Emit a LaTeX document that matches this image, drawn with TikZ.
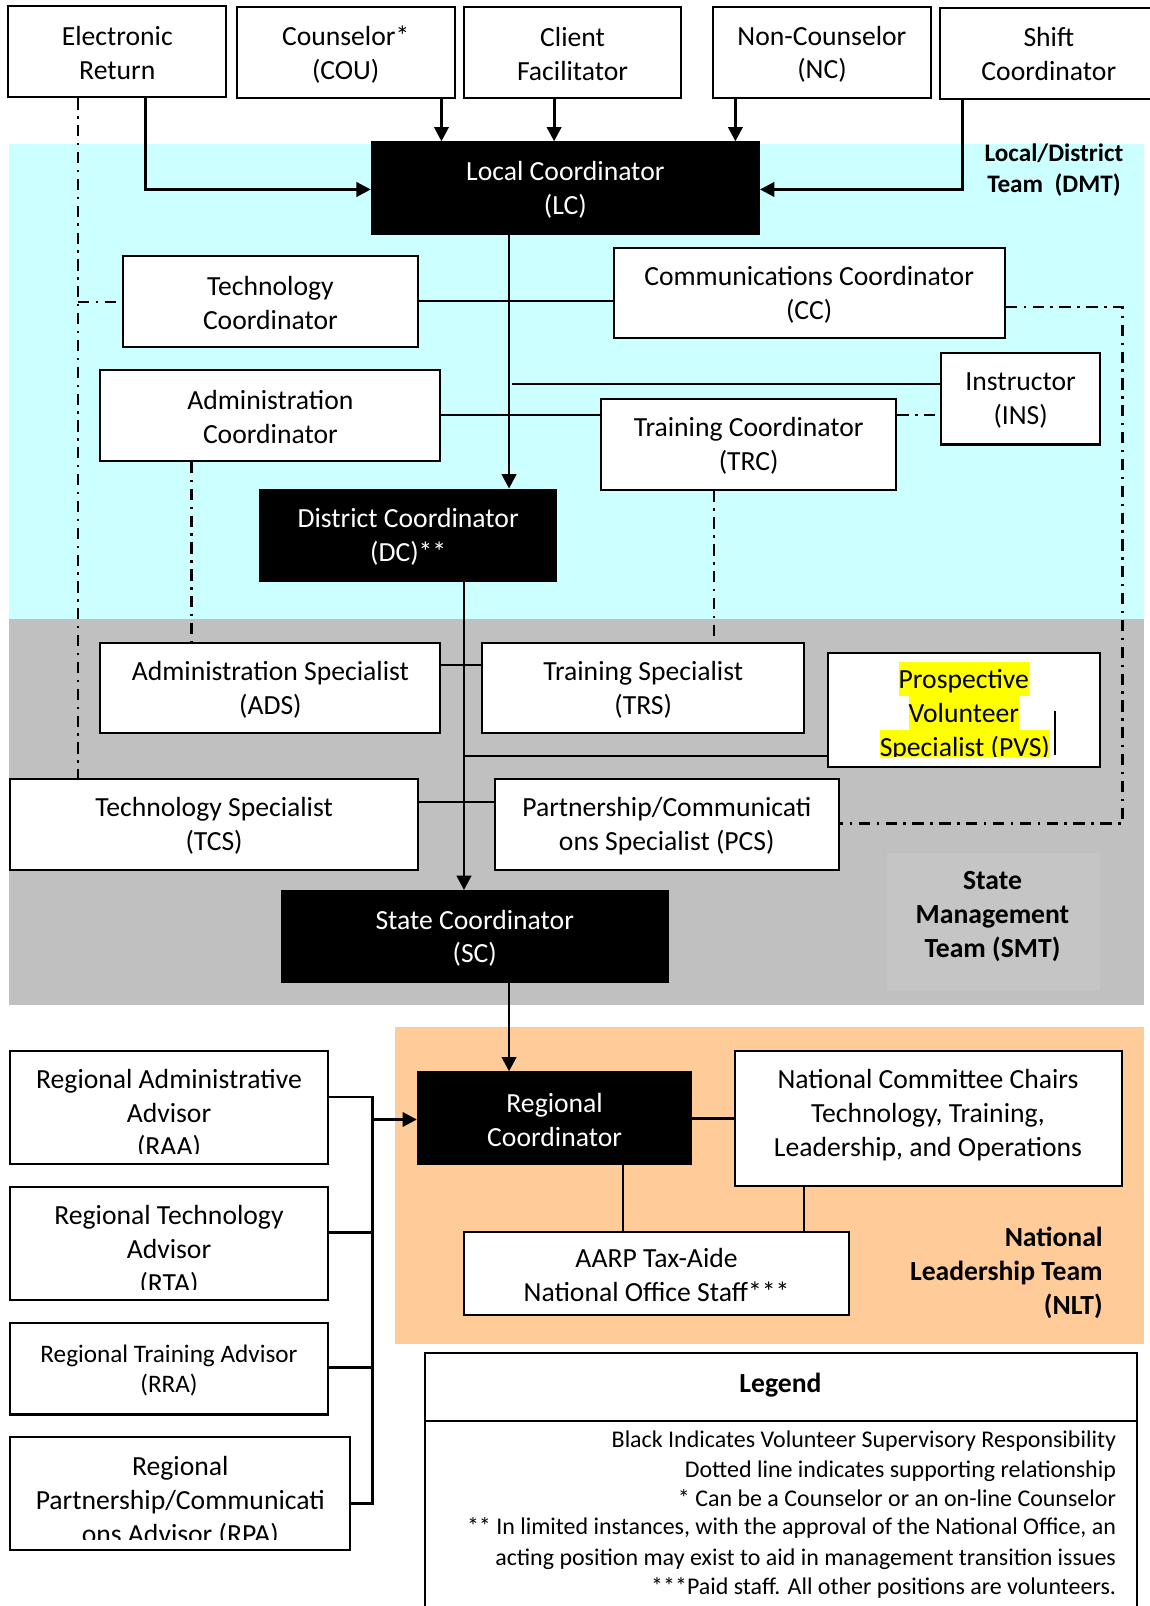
\documentclass[tikz,border=0pt]{standalone}
\usepackage{fontspec}
\setmainfont{Carlito}
\usetikzlibrary{arrows.meta}
\definecolor{cyanbg}{HTML}{CCFFFF}
\definecolor{graybg}{HTML}{C0C0C0}
\definecolor{smtbg}{HTML}{C5C5C5}
\definecolor{orangebg}{HTML}{FFCC99}
\definecolor{hlyellow}{HTML}{FFFF00}
\newcommand\myboxfont{\fontsize{13.5}{16.5}\selectfont}
\newcommand\mysmallfont{\fontsize{12.3}{15}\selectfont}
\newcommand\mylegfont{\fontsize{11.7}{14.3}\selectfont}
\newcommand\mkbox[7][]{%
  \node[box,#1,minimum width={(#5-#3)*0.5pt},minimum height={(#6-#4)*0.5pt}] (#2) at ({(#3+#5)/2},{(#4+#6)/2}) {};
  \node[txt,#1,fill=none,draw=none,yshift=-0.8pt] (#2t) at (#2.center) {#7};}
\tikzset{
  box/.style={draw=black, line width=1pt, fill=white, inner sep=0pt, align=center, font=\myboxfont},
  blk/.style={fill=black, text=white},
  txt/.style={inner sep=0pt, align=center, font=\myboxfont},
  hl/.style={fill=hlyellow, inner xsep=0pt, inner ysep=0pt, text height=13pt, text depth=3.5pt, font=\myboxfont},
  arr/.style={line width=1.4pt, -{Triangle[length=7pt,width=7pt]}},
  ln/.style={line width=1pt},
  ln2/.style={line width=1.3pt},
  dd/.style={line width=1.1pt, dash pattern=on 5.5pt off 3.2pt on 1.2pt off 3.2pt},
  lbl/.style={inner sep=0pt, font=\bfseries\myboxfont}
}
\begin{document}
\begin{tikzpicture}[x=0.5pt,y=-0.5pt]
\useasboundingbox (0,0) rectangle (1122,1568);
% background bands
\fill[cyanbg] (9,141) rectangle (1117,604);
\fill[graybg] (9,604) rectangle (1117,981);
\fill[orangebg] (386,1003) rectangle (1117,1312);
\fill[smtbg] (866,833) rectangle (1074,967);

% top row
\mkbox{er}{8}{6}{221}{95}{Electronic\\Return}
\mkbox{cou}{231}{7}{444}{96}{Counselor*\\(COU)}
\mkbox{cf}{453}{7}{665}{96}{Client\\Facilitator}
\mkbox{nc}{696}{7}{909}{96}{Non-Counselor\\(NC)}
\mkbox{shc}{918}{8}{1126}{97}{}
\node[txt] (shct) at (1024,53) {Shift\\Coordinator};

% local / district
\mkbox[blk]{lc}{363}{139}{741}{228}{Local Coordinator\\(LC)}
\mkbox{tc}{120}{250}{408}{339}{Technology\\Coordinator}
\mkbox{cc}{599}{242}{981}{330}{Communications Coordinator\\(CC)}
\mkbox{ins}{919}{345}{1074}{434}{Instructor\\(INS)}
\mkbox{ac}{98}{361}{430}{450}{Administration\\Coordinator}
\mkbox{trc}{587}{390}{875}{478}{Training Coordinator\\(TRC)}
\mkbox[blk]{dc}{254}{478}{543}{567}{District Coordinator\\(DC)**}

% state
\mkbox{ads}{98}{628}{430}{716}{Administration Specialist\\(ADS)}
\mkbox{trs}{471}{628}{785}{716}{Training Specialist\\(TRS)}
\mkbox{pvs}{808}{638}{1074}{749}{}
\begin{scope}
\clip (809,639) rectangle (1073,739);
\node[hl] (pvs1) at (941,663) {Prospective};
\node[hl] (pvs2) at (941,696) {Volunteer};
\node[hl] (pvs3) at (942,729) {Specialist (PVS)};
\end{scope}
\draw[line width=0.9pt] (1030,694) -- (1030,737);
\mkbox{tcs}{10}{761}{408}{849}{Technology Specialist\\(TCS)}
\mkbox{pcs}{483}{761}{819}{849}{Partnership/Communicati\\ons Specialist (PCS)}
\mkbox[blk]{sc}{275}{870}{652}{959}{State Coordinator\\(SC)}

% national
\mkbox[blk]{rc}{408}{1047}{675}{1136}{Regional\\Coordinator}
\mkbox{ncc}{718}{1026}{1095}{1158}{}
\node[txt] (ncct) at (906,1089) {National Committee Chairs\\Technology, Training,\\Leadership, and Operations};
\mkbox{aarp}{453}{1203}{829}{1284}{AARP Tax-Aide\\National Office Staff***}

% regional advisors
\mkbox{raa}{10}{1026}{320}{1136}{}
\begin{scope}
\clip (11,1027) rectangle (319,1126);
\node[txt] (raat) at (165,1088) {Regional Administrative\\Advisor\\(RAA)};
\end{scope}
\mkbox{rta}{10}{1159}{320}{1269}{}
\begin{scope}
\clip (11,1160) rectangle (319,1259);
\node[txt] (rtat) at (165,1221) {Regional Technology\\Advisor\\(RTA)};
\end{scope}
\mkbox[font=\mysmallfont]{rra}{10}{1292}{320}{1381}{Regional Training Advisor\\(RRA)}
\mkbox{rpa}{10}{1403}{342}{1513}{}
\begin{scope}
\clip (11,1404) rectangle (341,1503);
\node[txt] (rpat) at (176,1466) {Regional\\Partnership/Communicati\\ons Advisor (RPA)};
\end{scope}

% team labels
\node[lbl, font=\bfseries\fontsize{12.3}{15.5}\selectfont, align=center] (dmt) at (1029,166) {Local/District\\Team\ \ (DMT)};
\node[lbl, align=center] (smt) at (969,895) {State\\Management\\Team (SMT)};
\node[lbl, align=right, anchor=east] (nlt) at (1077,1243) {National\\Leadership Team\\(NLT)};

% solid connectors
\coordinate (k1) at (142,185);
\draw[arr] (er.south -| k1) -- (k1) -- (lc.west |- k1);
\coordinate (k2) at (431,0);
\draw[arr] (cou.south -| k2) -- (lc.north -| k2);
\coordinate (k3) at (541,0);
\draw[arr] (cf.south -| k3) -- (lc.north -| k3);
\coordinate (k4) at (718,0);
\draw[arr] (nc.south -| k4) -- (lc.north -| k4);
\coordinate (k5) at (940,185);
\draw[arr] (shc.south -| k5) -- (k5) -- (lc.east |- k5);
\coordinate (k6) at (497,0);
\draw[arr] (lc.south -| k6) -- (dc.north -| k6);
\coordinate (k9) at (0,294);
\draw[ln] (tc.east |- k9) -- (cc.west |- k9);
\coordinate (k7) at (500,375);
\draw[ln] (k7) -- (ins.west |- k7);
\coordinate (k8) at (0,405);
\draw[ln] (ac.east |- k8) -- (trc.west |- k8);
\coordinate (k10) at (453,0);
\draw[arr] (dc.south -| k10) -- (sc.north -| k10);
\coordinate (k11) at (0,649);
\draw[ln] (ads.east |- k11) -- (trs.west |- k11);
\coordinate (k12) at (453,738);
\draw[ln] (k12) -- (pvs.west |- k12);
\coordinate (k13) at (0,783);
\draw[ln] (tcs.east |- k13) -- (pcs.west |- k13);
\draw[arr] (sc.south -| k6) -- (rc.north -| k6);
\coordinate (k14) at (0,1092);
\draw[ln] (rc.east |- k14) -- (ncc.west |- k14);
\coordinate (k15) at (608,0);
\draw[ln] (rc.south -| k15) -- (aarp.north -| k15);
\coordinate (k16) at (785,0);
\draw[ln] (ncc.south -| k16) -- (aarp.north -| k16);

% regional bracket
\coordinate (b0) at (364,1093);
\coordinate (b1) at (364,1071);
\coordinate (b2) at (364,1203);
\coordinate (b3) at (364,1335);
\coordinate (b4) at (364,1468);
\draw[ln2] (raa.east |- b1) -- (b1) -- (b4) -- (rpa.east |- b4);
\draw[ln2] (rta.east |- b2) -- (b2);
\draw[ln2] (rra.east |- b3) -- (b3);
\draw[arr] (b0) -- (rc.west |- b0);

% dash-dot supporting lines
\coordinate (d1) at (76,0);
\draw[dd] (er.south -| d1) -- (tcs.north -| d1);
\coordinate (d2) at (76,295);
\draw[dd] (d2) -- (tc.west |- d2);
\coordinate (d3) at (187,0);
\draw[dd] (ac.south -| d3) -- (ads.north -| d3);
\coordinate (d4) at (697,0);
\draw[dd] (trc.south -| d4) -- (trs.north -| d4);
\draw[dd] (trc.east |- k8) -- (ins.west |- k8);
\coordinate (d5) at (1096,300);
\coordinate (d6) at (1096,804);
\draw[dd] (cc.east |- d5) -- (d5) -- (d6) -- (pcs.east |- d6);

% legend
\draw[line width=1pt] (415,1575) -- (415,1321) -- (1110,1321) -- (1110,1575);
\draw[line width=1pt] (415,1387) -- (1110,1387);
\node[lbl] (leg) at (762,1352) {Legend};
\begin{scope}[every node/.style={inner sep=0pt, anchor=base east, font=\mylegfont}]
\node (lg1) at (1090,1413.5) {Black Indicates Volunteer Supervisory Responsibility};
\node (lg2) at (1090,1442.5) {Dotted line indicates supporting relationship};
\node (lg3) at (1090,1470.5) {* Can be a Counselor or an on-line Counselor};
\node (lg4) at (1090,1498.5) {** In limited instances, with the approval of the National Office, an};
\node (lg5) at (1090,1528.5) {acting position may exist to aid in management transition issues};
\node (lg6) at (1090,1556.5) {***Paid staff. All other positions are volunteers.};
\end{scope}
\end{tikzpicture}
\end{document}
